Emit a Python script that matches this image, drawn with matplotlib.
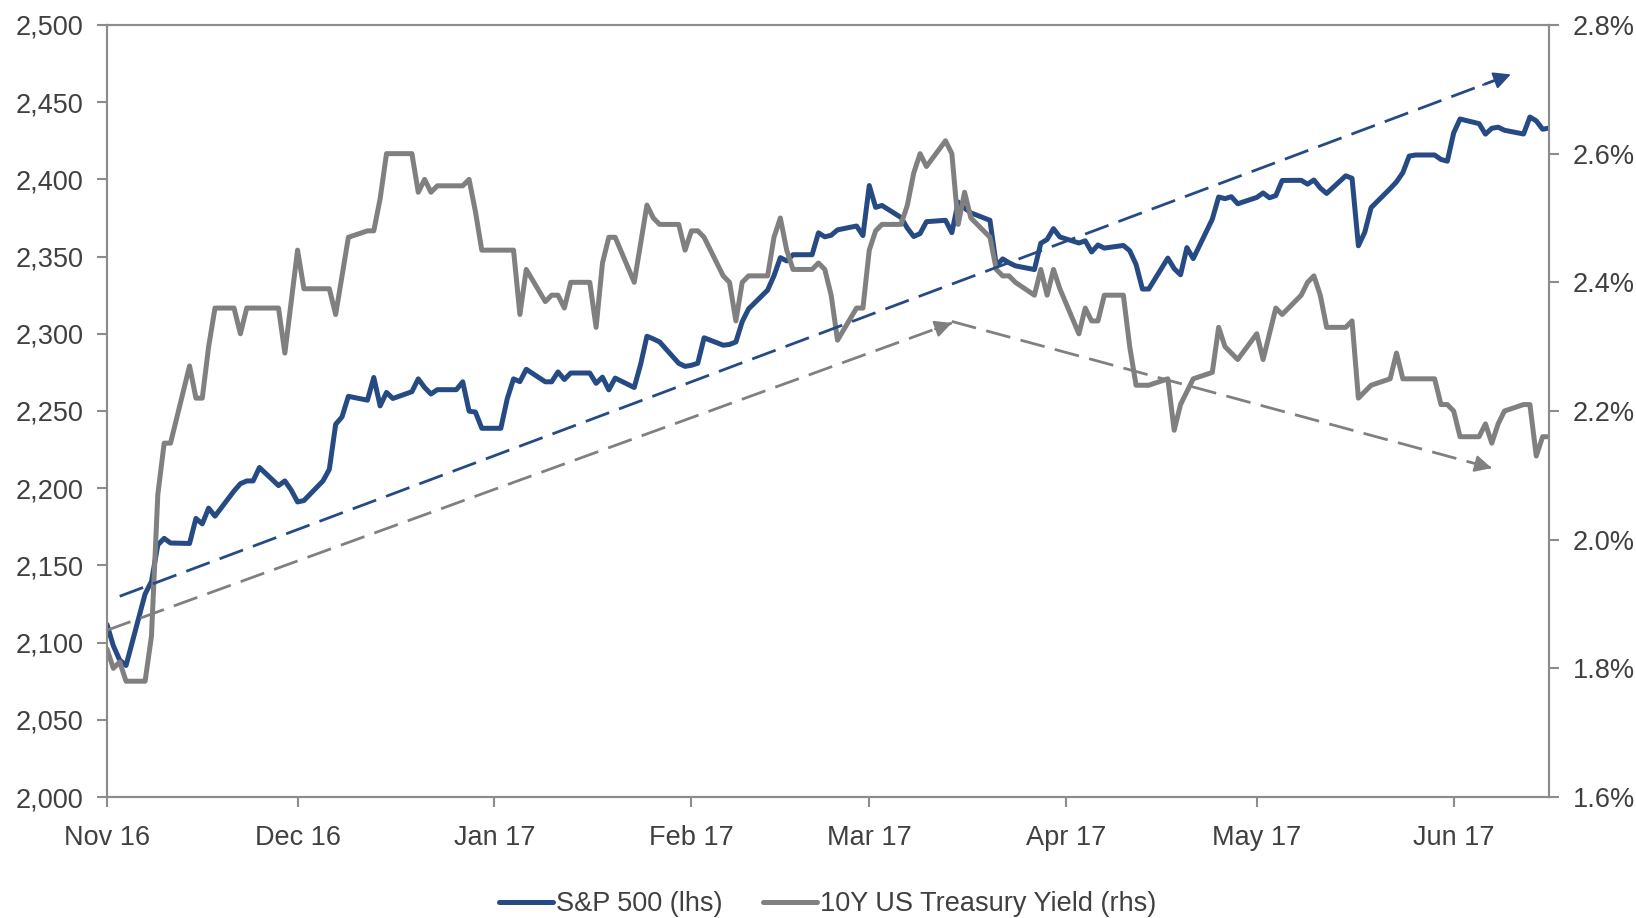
import numpy as np
import pandas as pd
import matplotlib
matplotlib.use("Agg")
import matplotlib.pyplot as plt
import matplotlib.dates as mdates
from matplotlib.ticker import FuncFormatter

# weekday series, market holidays carry the previous close
dates = pd.bdate_range("2016-11-01", "2017-06-16")

spx = [
    # Nov
    2111.7, 2097.9, 2088.7, 2085.2, 2131.5, 2139.6, 2163.3, 2167.5, 2164.5, 2164.2,
    2180.4, 2176.9, 2187.1, 2181.9, 2198.2, 2202.9, 2204.7, 2204.7, 2213.4, 2201.7,
    2204.7, 2198.8,
    # Dec
    2191.1, 2192.0, 2204.7, 2212.2, 2241.4, 2246.2, 2259.5, 2257.0, 2271.7, 2253.3,
    2262.0, 2258.1, 2262.5, 2270.8, 2265.2, 2261.0, 2263.8, 2263.8, 2268.9, 2249.9,
    2249.3, 2238.8,
    # Jan
    2238.8, 2257.8, 2270.8, 2269.0, 2277.0, 2268.9, 2268.9, 2275.3, 2270.4, 2274.6,
    2274.6, 2267.9, 2271.9, 2263.7, 2271.3, 2265.2, 2280.1, 2298.4, 2296.7, 2294.7,
    2280.9, 2278.9,
    # Feb
    2279.6, 2280.9, 2297.4, 2292.6, 2293.1, 2294.7, 2307.9, 2316.1, 2328.3, 2337.6,
    2349.3, 2347.2, 2351.2, 2351.2, 2365.4, 2362.8, 2363.8, 2367.3, 2369.8, 2363.6,
    # Mar
    2396.0, 2381.9, 2383.1, 2375.3, 2368.4, 2363.0, 2364.9, 2372.6, 2373.5, 2365.5,
    2385.3, 2381.4, 2378.3, 2373.5, 2344.0, 2348.5, 2346.0, 2344.0, 2341.6, 2358.6,
    2361.1, 2368.1, 2362.7,
    # Apr
    2358.8, 2360.2, 2353.0, 2357.5, 2355.5, 2357.2, 2353.8, 2344.9, 2329.0, 2329.0,
    2349.0, 2342.2, 2338.2, 2355.8, 2348.7, 2374.2, 2388.6, 2387.5, 2388.8, 2384.2,
    # May
    2388.3, 2391.2, 2388.1, 2389.5, 2399.3, 2399.4, 2396.9, 2399.6, 2394.4, 2390.9,
    2402.3, 2400.7, 2357.0, 2365.7, 2381.7, 2394.0, 2398.4, 2404.4, 2415.1, 2415.8,
    2415.8, 2412.9, 2411.8,
    # Jun
    2430.1, 2439.1, 2436.1, 2429.3, 2433.1, 2433.8, 2431.8, 2429.4, 2440.4, 2437.9,
    2432.5, 2433.2,
]

ust10y = [
    # Nov
    1.83, 1.80, 1.81, 1.78, 1.78, 1.85, 2.07, 2.15, 2.15, 2.27,
    2.22, 2.22, 2.30, 2.36, 2.36, 2.32, 2.36, 2.36, 2.36, 2.36,
    2.29, 2.37,
    # Dec
    2.45, 2.39, 2.39, 2.39, 2.35, 2.41, 2.47, 2.48, 2.48, 2.53,
    2.60, 2.60, 2.60, 2.54, 2.56, 2.54, 2.55, 2.55, 2.55, 2.56,
    2.51, 2.45,
    # Jan
    2.45, 2.45, 2.45, 2.35, 2.42, 2.37, 2.38, 2.38, 2.36, 2.40,
    2.40, 2.33, 2.43, 2.47, 2.47, 2.40, 2.46, 2.52, 2.50, 2.49,
    2.49, 2.45,
    # Feb
    2.48, 2.48, 2.47, 2.41, 2.40, 2.34, 2.40, 2.41, 2.41, 2.47,
    2.50, 2.45, 2.42, 2.42, 2.43, 2.42, 2.38, 2.31, 2.36, 2.36,
    # Mar
    2.45, 2.48, 2.49, 2.49, 2.52, 2.57, 2.60, 2.58, 2.62, 2.60,
    2.49, 2.54, 2.50, 2.47, 2.42, 2.41, 2.41, 2.40, 2.38, 2.42,
    2.38, 2.42, 2.39,
    # Apr
    2.32, 2.36, 2.34, 2.34, 2.38, 2.38, 2.30, 2.24, 2.24, 2.24,
    2.25, 2.17, 2.21, 2.23, 2.25, 2.26, 2.33, 2.30, 2.29, 2.28,
    # May
    2.32, 2.28, 2.32, 2.36, 2.35, 2.38, 2.40, 2.41, 2.38, 2.33,
    2.33, 2.34, 2.22, 2.23, 2.24, 2.25, 2.29, 2.25, 2.25, 2.25,
    2.25, 2.21, 2.21,
    # Jun
    2.20, 2.16, 2.16, 2.18, 2.15, 2.18, 2.20, 2.21, 2.21, 2.13,
    2.16, 2.16,
]

# trend arrows (date, S&P level on lhs)
arrow_blue = [("2016-11-03", 2130), ("2017-06-10", 2468)]
arrow_grey_up = [("2016-11-01", 2108), ("2017-03-14", 2307)]
arrow_grey_down = [("2017-03-14", 2308), ("2017-06-07", 2213)]

blue = "#264a84"
grey = "#808080"
axis_grey = "#8c8c8c"
text_col = "#404040"

plt.rcParams["font.family"] = ["Liberation Sans", "DejaVu Sans"]

fig = plt.figure(figsize=(16.36, 9.18), dpi=100)
ax = fig.add_axes([0.0654, 0.1318, 0.8814, 0.841])
ax2 = ax.twinx()

ax.plot(dates, spx, color=blue, lw=3.6, solid_joinstyle="round", solid_capstyle="round",
        label="S&P 500 (lhs)")
ax2.plot(dates, ust10y, color=grey, lw=3.6, solid_joinstyle="round", solid_capstyle="round",
         label="10Y US Treasury Yield (rhs)")


def draw_arrow(a, pts, col):
    (d0, y0), (d1, y1) = pts
    x0 = mdates.date2num(pd.Timestamp(d0))
    x1 = mdates.date2num(pd.Timestamp(d1))
    a.plot([x0, x1], [y0, y1], color=col, lw=2.0, ls=(0, (9, 3.8)), zorder=5)
    # solid head at the end
    xs = x1 - (x1 - x0) * 0.02
    ys = y1 - (y1 - y0) * 0.02
    a.annotate("", xy=(x1, y1), xytext=(xs, ys), zorder=6,
               arrowprops=dict(arrowstyle="-|>", color=col, lw=1.5,
                               mutation_scale=26, shrinkA=0, shrinkB=0))


# overlay axis on the lhs scale so the arrows sit above both lines
ax3 = ax.twinx()
ax3.set_ylim(2000, 2500)
ax3.axis("off")
draw_arrow(ax3, arrow_blue, blue)
draw_arrow(ax3, arrow_grey_up, grey)
draw_arrow(ax3, arrow_grey_down, grey)

ax.set_xlim(pd.Timestamp("2016-11-01"), pd.Timestamp("2017-06-16"))
ax.set_ylim(2000, 2500)
ax2.set_ylim(1.6, 2.8)
ax.set_yticks(np.arange(2000, 2501, 50))
ax2.set_yticks(np.arange(1.6, 2.81, 0.2))
ax.yaxis.set_major_formatter(FuncFormatter(lambda v, p: f"{v:,.0f}"))
ax2.yaxis.set_major_formatter(FuncFormatter(lambda v, p: f"{v:.1f}%"))
ax.xaxis.set_major_locator(mdates.MonthLocator())
ax.xaxis.set_major_formatter(mdates.DateFormatter("%b %y"))

for a in (ax, ax2, ax3):
    for s in a.spines.values():
        s.set_color(axis_grey)
        s.set_linewidth(1.5)

fs = 19.5
ax.tick_params(axis="y", direction="out", length=7, width=1.5, color=axis_grey,
               labelsize=fs, labelcolor=text_col, pad=10)
ax.tick_params(axis="x", direction="out", length=7, width=1.5, color=axis_grey,
               labelsize=fs, labelcolor=text_col, pad=13)
ax2.tick_params(axis="y", direction="out", length=7, width=1.5, color=axis_grey,
                labelsize=fs, labelcolor=text_col, pad=10)

h1, l1 = ax.get_legend_handles_labels()
h2, l2 = ax2.get_legend_handles_labels()
fig.legend(h1 + h2, l1 + l2, loc="center", bbox_to_anchor=(0.506, 0.015), ncol=2,
           frameon=False, fontsize=fs, handlelength=2.0, handletextpad=0.1,
           columnspacing=1.5, labelcolor=text_col)

fig.savefig("out.png", dpi=100)
